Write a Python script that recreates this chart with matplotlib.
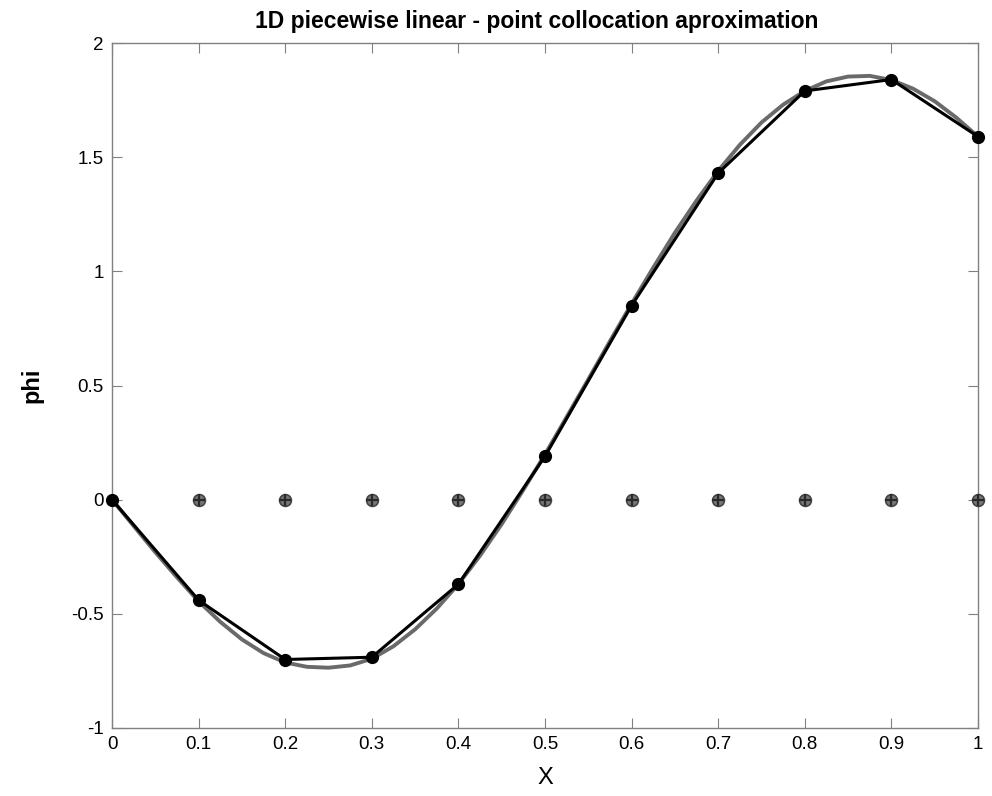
import matplotlib
matplotlib.use("Agg")
import matplotlib.pyplot as plt

# Nodal (collocation) approximation values
x_nodes = [0.0, 0.1, 0.2, 0.3, 0.4, 0.5, 0.6, 0.7, 0.8, 0.9, 1.0]
phi_approx = [0.0, -0.44, -0.70, -0.69, -0.37, 0.19, 0.85, 1.43, 1.79, 1.84, 1.59]

# Reference (exact) curve
x_exact = [0.0, 0.025, 0.05, 0.075, 0.1, 0.125, 0.15, 0.175, 0.2, 0.225,
           0.25, 0.275, 0.3, 0.325, 0.35, 0.375, 0.4, 0.425, 0.45, 0.475,
           0.5, 0.525, 0.55, 0.575, 0.6, 0.625, 0.65, 0.675, 0.7, 0.725,
           0.75, 0.775, 0.8, 0.825, 0.85, 0.875, 0.9, 0.925, 0.95, 0.975, 1.0]
phi_exact = [0.0, -0.115, -0.23, -0.34, -0.445, -0.535, -0.612, -0.672, -0.713, -0.732,
             -0.736, -0.726, -0.697, -0.642, -0.568, -0.477, -0.37, -0.245, -0.107, 0.043,
             0.198, 0.362, 0.527, 0.694, 0.858, 1.016, 1.169, 1.31, 1.44, 1.554,
             1.652, 1.73, 1.79, 1.832, 1.853, 1.856, 1.838, 1.80, 1.745, 1.673, 1.59]

# Collocation points
x_colloc = [0.1, 0.2, 0.3, 0.4, 0.5, 0.6, 0.7, 0.8, 0.9, 1.0]
y_colloc = [0, 0, 0, 0, 0, 0, 0, 0, 0, 0]

xticks = [0, 0.1, 0.2, 0.3, 0.4, 0.5, 0.6, 0.7, 0.8, 0.9, 1]
xticklabels = ["0", "0.1", "0.2", "0.3", "0.4", "0.5", "0.6", "0.7", "0.8", "0.9", "1"]
yticks = [-1, -0.5, 0, 0.5, 1, 1.5, 2]
yticklabels = ["-1", "-0.5", "0", "0.5", "1", "1.5", "2"]

plt.rcParams['font.family'] = ['Liberation Sans', 'DejaVu Sans']

fig = plt.figure(figsize=(9.92, 7.96), dpi=100)
ax = fig.add_axes([112/992, 68/796, (978-112)/992, (728-43)/796])

ax.plot(x_exact, phi_exact, color='#6a6a6a', linewidth=2.8, zorder=2)
ax.plot(x_nodes, phi_approx, color='black', linewidth=2.2, marker='o',
        markersize=8.5, markerfacecolor='black', markeredgecolor='black', zorder=3,
        clip_on=False)
ax.plot(x_colloc, y_colloc, linestyle='none', marker='o', markersize=8.5,
        markerfacecolor='#777777', markeredgecolor='#444444', markeredgewidth=1.2,
        zorder=4, clip_on=False)
ax.plot(x_colloc, y_colloc, linestyle='none', marker='+', markersize=8.5,
        markeredgecolor='#2a2a2a', markeredgewidth=1.6, zorder=5, clip_on=False)

ax.set_xlim(0, 1)
ax.set_ylim(-1, 2)
ax.set_xticks(xticks)
ax.set_xticklabels(xticklabels)
ax.set_yticks(yticks)
ax.set_yticklabels(yticklabels)

for s in ax.spines.values():
    s.set_color('#808080')
    s.set_linewidth(1.0)
ax.tick_params(direction='in', length=7, width=0.8, color='#808080',
               top=True, right=True, labelsize=13.5, labelcolor='black', pad=6)

ax.set_title("1D piecewise linear - point collocation aproximation",
             fontsize=16.5, fontweight='bold', pad=11, x=0.49)
ax.set_xlabel("X", fontsize=17, labelpad=10)
ax.set_ylabel("phi", fontsize=17, fontweight='bold', labelpad=20)

fig.savefig("out.png", dpi=100)
